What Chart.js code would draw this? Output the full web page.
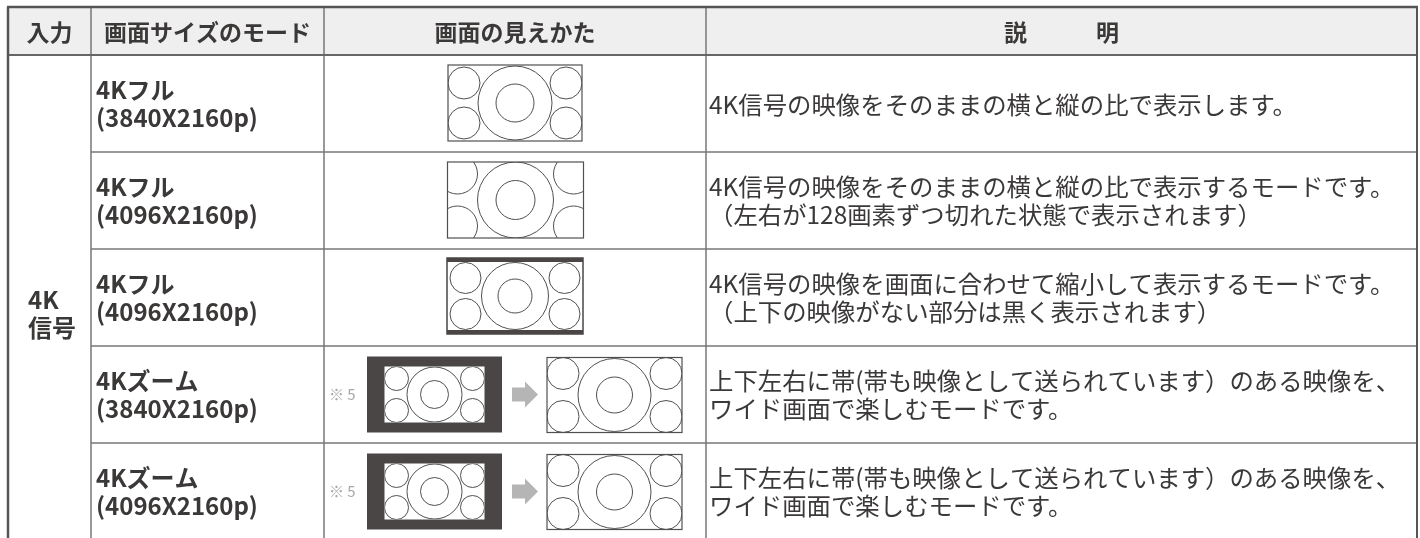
<!DOCTYPE html>
<html>
<head>
<meta charset="utf-8">
<script src="https://cdn.jsdelivr.net/npm/chart.js@4.4.1/dist/chart.umd.min.js"></script>
<style>
html,body{margin:0;padding:0;background:#ffffff;}
#wrap{width:1420px;height:538px;position:relative;}
</style>
</head>
<body>
<div id="wrap"><canvas id="c" width="1420" height="538"></canvas></div>
<script>
// ---- table content (data) ----
const headers = ['入力', '画面サイズのモード', '画面の見えかた', '説　　　明'];
const inputGroup = ['4K', '信号'];
const modeNames = ['4Kフル', '4Kフル', '4Kフル', '4Kズーム', '4Kズーム'];
const resolutions = ['(3840X2160p)', '(4096X2160p)', '(4096X2160p)', '(3840X2160p)', '(4096X2160p)'];
const pictureTypes = ['full', 'crop', 'letterbox', 'zoom', 'zoom'];
const notes = ['', '', '', '※ 5', '※ 5'];
const descLine1 = [
  '4K信号の映像をそのままの横と縦の比で表示します。',
  '4K信号の映像をそのままの横と縦の比で表示するモードです。',
  '4K信号の映像を画面に合わせて縮小して表示するモードです。',
  '上下左右に帯(帯も映像として送られています）のある映像を、',
  '上下左右に帯(帯も映像として送られています）のある映像を、'
];
const descLine2 = [
  '',
  '（左右が128画素ずつ切れた状態で表示されます）',
  '（上下の映像がない部分は黒く表示されます）',
  'ワイド画面で楽しむモードです。',
  'ワイド画面で楽しむモードです。'
];

// ---- layout (pixel units of the hidden linear scales) ----
const colEdges = [8, 91, 324, 706, 1417];
const tableTop = 7, headerBottom = 55, rowH = 97;
const JP = '"Noto Sans CJK JP", "Noto Sans", sans-serif';
const TEXT = '#3b3838', GRID = '#777777', BORDER = '#555555', DARK = '#4b4646', LINE = '#505050';

const rowCenters = modeNames.map((_, i) => ({ x: (colEdges[2] + colEdges[3]) / 2, y: headerBottom + rowH * i + rowH / 2 }));

function drawScreen(ctx, cx, cy, w, h, p) {
  const x0 = cx - w / 2, y0 = cy - h / 2;
  ctx.save();
  ctx.fillStyle = '#ffffff';
  ctx.fillRect(x0, y0, w, h);
  ctx.beginPath(); ctx.rect(x0, y0, w, h); ctx.clip();
  ctx.strokeStyle = LINE; ctx.lineWidth = 1;
  const circ = (x, y, r) => { ctx.beginPath(); ctx.arc(x, y, r, 0, Math.PI * 2); ctx.stroke(); };
  circ(cx, cy, p.big);
  circ(cx, cy, p.inner);
  circ(x0 + p.ox, y0 + p.oy, p.cr);
  circ(x0 + p.ox, y0 + h - p.oy, p.cr);
  circ(x0 + w - p.ox, y0 + p.oy, p.cr);
  circ(x0 + w - p.ox, y0 + h - p.oy, p.cr);
  ctx.restore();
  if (p.border !== false) {
    ctx.save();
    ctx.strokeStyle = LINE; ctx.lineWidth = 1.2;
    ctx.strokeRect(x0, y0, w, h);
    ctx.restore();
  }
}

const tablePlugin = {
  id: 'tablePlugin',
  afterDraw(chart) {
    const { ctx, scales: { x, y } } = chart;
    const X = v => x.getPixelForValue(v), Y = v => y.getPixelForValue(v);
    const left = X(colEdges[0]), right = X(colEdges[4]);
    const top = Y(tableTop), hb = Y(headerBottom);
    ctx.save();
    // header background
    ctx.fillStyle = '#efefef';
    ctx.fillRect(left, top, right - left, hb - top);

    // header texts
    ctx.fillStyle = TEXT;
    ctx.textBaseline = 'middle';
    ctx.textAlign = 'center';
    ctx.font = 'bold 23px ' + JP;
    headers.forEach((h, i) => {
      ctx.fillText(h, X((colEdges[i] + colEdges[i + 1]) / 2), Y((tableTop + headerBottom) / 2 + 1));
    });

    // input group label (merged cell)
    ctx.textAlign = 'left';
    ctx.font = 'bold 24px ' + JP;
    ctx.fillText(inputGroup[0], X(28), Y(300));
    ctx.fillText(inputGroup[1], X(28), Y(328));

    // rows
    modeNames.forEach((m, i) => {
      const cyv = rowCenters[i].y;
      const cy = Y(cyv);
      // mode + resolution
      ctx.fillStyle = TEXT;
      ctx.textAlign = 'left';
      ctx.font = 'bold 24px ' + JP;
      ctx.fillText(m, X(colEdges[1] + 5), Y(cyv - 14));
      ctx.fillText(resolutions[i], X(colEdges[1] + 5), Y(cyv + 14));
      // description
      ctx.font = '24.4px ' + JP;
      if (descLine2[i]) {
        ctx.fillText(descLine1[i], X(colEdges[3] + 3), Y(cyv - 14));
        ctx.fillText(descLine2[i], X(colEdges[3] + 3), Y(cyv + 14));
      } else {
        ctx.fillText(descLine1[i], X(colEdges[3] + 3), Y(cyv + 1));
      }
      // note
      if (notes[i]) {
        ctx.fillStyle = '#a8a8a8';
        ctx.font = '15px ' + JP;
        ctx.fillText(notes[i], X(colEdges[2] + 5), Y(cyv));
      }
      // picture
      const cx = X(rowCenters[i].x);
      const t = pictureTypes[i];
      if (t === 'full') {
        drawScreen(ctx, cx, cy - 0.5, 134, 76, { big: 37, inner: 19, cr: 16, ox: 16, oy: 18 });
      } else if (t === 'crop') {
        drawScreen(ctx, cx + 0.5, cy - 0.5, 136, 76, { big: 38, inner: 19.5, cr: 20, ox: 10, oy: 12 });
      } else if (t === 'letterbox') {
        ctx.fillStyle = DARK;
        ctx.fillRect(cx - 68, cy - 1.5 - 38, 136, 76);
        drawScreen(ctx, cx, cy - 1.5, 136, 68, { big: 33.5, inner: 17, cr: 15.5, ox: 18.5, oy: 16, border: false });
        ctx.strokeStyle = DARK; ctx.lineWidth = 1.5;
        ctx.strokeRect(cx - 68, cy - 1.5 - 38, 136, 76);
      } else if (t === 'zoom') {
        const lx = cx - 80.5;
        ctx.fillStyle = DARK;
        ctx.fillRect(lx - 67.5, cy - 38, 135, 76);
        drawScreen(ctx, lx, cy, 100, 56, { big: 27.5, inner: 14, cr: 12, ox: 12, oy: 12, border: false });
        // arrow
        ctx.fillStyle = '#b5b5b5';
        ctx.beginPath();
        ctx.moveTo(cx - 3, cy - 7); ctx.lineTo(cx + 10, cy - 7); ctx.lineTo(cx + 10, cy - 13);
        ctx.lineTo(cx + 23, cy); ctx.lineTo(cx + 10, cy + 13); ctx.lineTo(cx + 10, cy + 7);
        ctx.lineTo(cx - 3, cy + 7); ctx.closePath(); ctx.fill();
        drawScreen(ctx, cx + 99.5, cy + 0.5, 135, 75, { big: 36.5, inner: 18, cr: 16, ox: 16, oy: 16 });
      }
    });

    // grid lines
    const hline = (yv, x1, x2, lw, col) => { ctx.strokeStyle = col; ctx.lineWidth = lw; ctx.beginPath(); ctx.moveTo(X(x1), Y(yv)); ctx.lineTo(X(x2), Y(yv)); ctx.stroke(); };
    const vline = (xv, y1, y2, lw, col) => { ctx.strokeStyle = col; ctx.lineWidth = lw; ctx.beginPath(); ctx.moveTo(X(xv), Y(y1)); ctx.lineTo(X(xv), Y(y2)); ctx.stroke(); };
    for (let i = 1; i < modeNames.length; i++) {
      hline(headerBottom + rowH * i, colEdges[1], colEdges[4], 1.5, GRID);
    }
    vline(colEdges[1], tableTop, 538, 1.5, GRID);
    vline(colEdges[2], tableTop, 538, 1.5, GRID);
    vline(colEdges[3], tableTop, 538, 1.5, GRID);
    hline(headerBottom, colEdges[0], colEdges[4], 2, '#666666');
    hline(tableTop, colEdges[0] - 1, colEdges[4] + 1, 2.5, BORDER);
    vline(colEdges[0], tableTop, 538, 2.5, BORDER);
    vline(colEdges[4], tableTop, 538, 2, BORDER);
    ctx.restore();
  }
};

new Chart(document.getElementById('c'), {
  type: 'scatter',
  data: { datasets: [{ data: rowCenters, pointRadius: 0, showLine: false }] },
  options: {
    responsive: false,
    devicePixelRatio: 1,
    animation: false,
    layout: { padding: 0 },
    plugins: { legend: { display: false }, tooltip: { enabled: false } },
    events: [],
    scales: {
      x: { type: 'linear', min: 0, max: 1420, display: false },
      y: { type: 'linear', min: 0, max: 538, reverse: true, display: false }
    }
  },
  plugins: [tablePlugin]
});
</script>
</body>
</html>
